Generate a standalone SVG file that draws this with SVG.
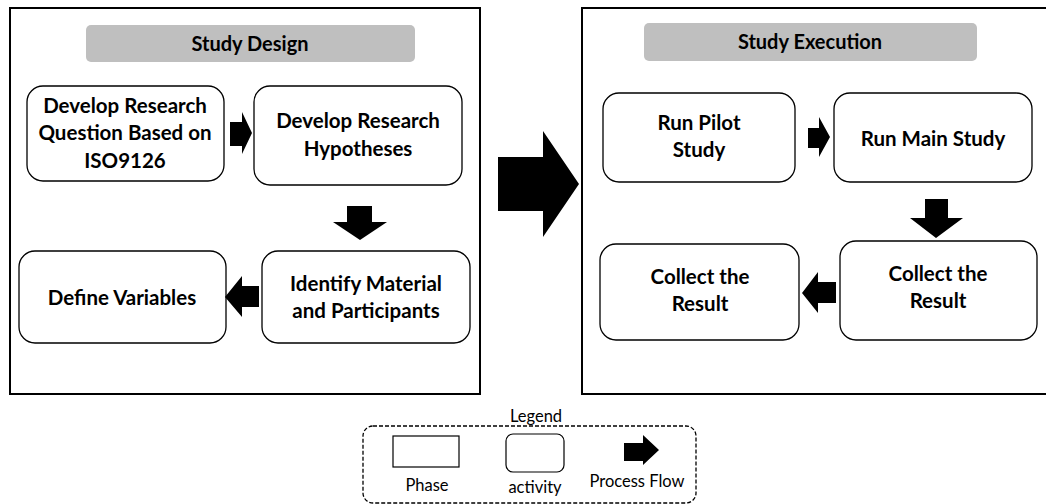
<svg xmlns="http://www.w3.org/2000/svg" width="1046" height="504" viewBox="0 0 1046 504">
<style>
.phase{fill:#fff;stroke:#000;stroke-width:2}
.hdr{fill:#bfbfbf}
.act{fill:#fff;stroke:#000;stroke-width:1.3}
.t{font-family:Lato,"Liberation Sans",sans-serif;font-weight:bold;font-size:20.5px;fill:#000;text-anchor:middle}
.h{font-family:Lato,"Liberation Sans",sans-serif;font-weight:bold;font-size:20px;fill:#000;text-anchor:middle}
.l{font-family:Lato,"Liberation Sans",sans-serif;font-size:16.5px;fill:#000;text-anchor:middle}
.ar{fill:#000}
</style>
<rect width="1046" height="504" fill="#fff"/>
<g id="phase-design">
<rect class="phase" x="10" y="8" width="470" height="386"/>
<rect class="hdr" x="86" y="25" width="329" height="37" rx="5"/>
<text class="h" x="250" y="51">Study Design</text>
</g>
<g id="phase-execution">
<rect class="phase" x="582" y="8" width="470" height="386"/>
<rect class="hdr" x="644" y="23" width="333" height="38" rx="5"/>
<text class="h" x="810" y="49">Study Execution</text>
</g>
<g id="n1">
<rect class="act" x="27" y="86" width="197" height="95" rx="16"/>
<text class="t" x="125" y="113">Develop Research</text>
<text class="t" x="125" y="140">Question Based on</text>
<text class="t" x="125" y="168">ISO9126</text>
</g>
<g id="n2">
<rect class="act" x="254" y="86" width="208" height="99" rx="16"/>
<text class="t" x="358" y="128">Develop Research</text>
<text class="t" x="358" y="156">Hypotheses</text>
</g>
<g id="n3">
<rect class="act" x="262" y="251" width="208" height="92" rx="16"/>
<text class="t" x="366" y="291">Identify Material</text>
<text class="t" x="366" y="318">and Participants</text>
</g>
<g id="n4">
<rect class="act" x="19" y="251" width="207" height="92" rx="16"/>
<text class="t" x="122" y="305">Define Variables</text>
</g>
<g id="n5">
<rect class="act" x="603" y="93" width="192" height="89" rx="16"/>
<text class="t" x="699" y="130">Run Pilot</text>
<text class="t" x="699" y="157">Study</text>
</g>
<g id="n6">
<rect class="act" x="834" y="93" width="198" height="89" rx="16"/>
<text class="t" x="933" y="146">Run Main Study</text>
</g>
<g id="n7">
<rect class="act" x="840" y="241" width="197" height="99" rx="16"/>
<text class="t" x="938" y="281">Collect the</text>
<text class="t" x="938" y="308">Result</text>
</g>
<g id="n8">
<rect class="act" x="600" y="244" width="199" height="96" rx="16"/>
<text class="t" x="700" y="284">Collect the</text>
<text class="t" x="700" y="311">Result</text>
</g>
<g id="connectors">
<polygon class="ar" points="230,122 242,122 242,112 252,133 242,154 242,146 230,146"/>
<polygon class="ar" points="347,206 372,206 372,222 387,222 360,240 333,222 347,222"/>
<polygon class="ar" points="259,286 242,286 242,276 225,297 242,317 242,307 259,307"/>
<polygon class="ar" points="498,157 543,157 543,131 579,184 543,237 543,211 498,211"/>
<polygon class="ar" points="808,128 819,128 819,117 830,137 819,157 819,148 808,148"/>
<polygon class="ar" points="925,199 948,199 948,218 963,218 936,238 910,218 925,218"/>
<polygon class="ar" points="836,282 818,282 818,272 802,293 818,313 818,303 836,303"/>
</g>
<g id="legend">
<rect x="363" y="426" width="333" height="77" rx="10" fill="none" stroke="#000" stroke-width="1.3" stroke-dasharray="4,2"/>
<text class="l" x="536" y="422">Legend</text>
<rect x="393" y="436" width="66" height="31" fill="#fff" stroke="#000" stroke-width="1.2"/>
<text class="l" x="427" y="491">Phase</text>
<rect x="506" y="434" width="58" height="38" rx="7" fill="#fff" stroke="#000" stroke-width="1.2"/>
<text class="l" x="535" y="493">activity</text>
<polygon class="ar" points="624,443 643,443 643,435 659,450 643,465 643,461 624,461"/>
<text class="l" x="637" y="487">Process Flow</text>
</g>
</svg>
